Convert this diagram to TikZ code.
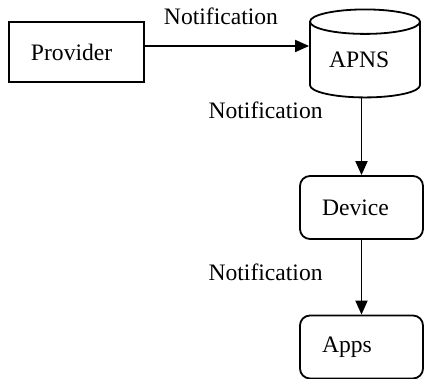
\documentclass[tikz,border=0pt]{standalone}
\usepackage{fontspec}
\setmainfont{Liberation Serif}
\usetikzlibrary{arrows.meta, positioning, shapes.geometric}
\tikzset{
  every picture/.style={font=\fontsize{11.8}{14}\selectfont, line width=0.9pt},
  box/.style={draw, align=left, text width=#1, inner xsep=11pt, inner ysep=0pt},
  roundbox/.style={box=#1, rounded corners=5pt, minimum height=31.5pt},
  store/.style={draw, cylinder, shape border rotate=90, aspect=0.34, align=left,
    text width=36pt, inner sep=0pt, minimum width=55pt, minimum height=44pt},
  arrow/.style={-{Triangle[length=7pt, width=6pt]}},
  msg/.style={inner sep=0pt},
}
\begin{document}
\begin{tikzpicture}[x=0.5pt, y=-0.5pt]
  \useasboundingbox (0,0) rectangle (424,379);
  % senders and receivers
  \node[box=45.5pt, minimum height=30pt] (provider) at (76.5,52) {Provider};
  \node[store] (apns) at (365,60) {APNS};
  \node[roundbox=39.5pt] (device) at (361.5,207.5) {Device};
  \node[roundbox=39.5pt] (apps) at (361.5,347) {Apps};
  % the notification travels down the chain
  \draw[arrow] ([yshift=3pt]provider.east) -- ([yshift=3pt]provider.east -| apns.west)
    node[msg, midway, above=10pt, xshift=-3pt] (m1) {Notification};
  \draw[arrow] (apns.south -| device.north) -- (device.north)
    node[msg, pos=0.16, left=19pt] (m2) {Notification};
  \draw[arrow] (device) -- (apps)
    node[msg, pos=0.43, left=19pt] (m3) {Notification};
\end{tikzpicture}
\end{document}
